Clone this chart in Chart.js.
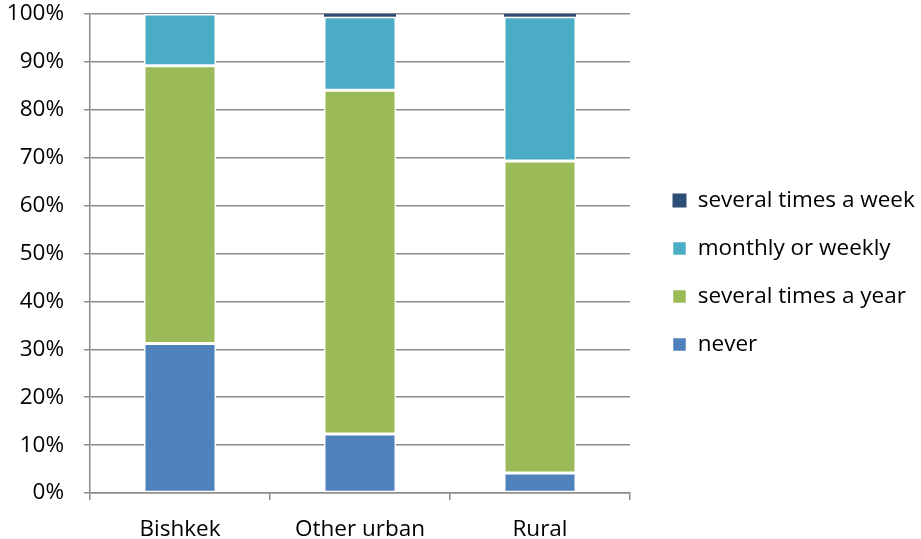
<!DOCTYPE html>
<html>
<head>
<meta charset="utf-8">
<script src="https://cdn.jsdelivr.net/npm/chart.js@4"></script>
<style>
  html, body { margin: 0; padding: 0; background: #fff; }
  #wrap { width: 921px; height: 539px; }
</style>
</head>
<body>
<div id="wrap"><canvas id="chart" width="921" height="539"></canvas></div>
<script>
// categories and shares (percent of respondents)
const regions = ['Bishkek', 'Other urban', 'Rural'];
const never = [31.2, 12.3, 4.2];
const severalYear = [58.0, 71.8, 65.1];
const monthlyWeekly = [10.8, 15.3, 30.1];
const severalWeek = [0.0, 0.6, 0.6];
const yTicks = [0, 10, 20, 30, 40, 50, 60, 70, 80, 90, 100];

const FONT = "'Open Sans', 'Noto Sans', sans-serif";
const axisGrey = '#8c8c8c';
const LEGEND_WIDTH = 291;
const LEGEND_SHIFT_X = 17;
const LEGEND_SHIFT_Y = -4;

function series(label, data, color, border) {
    return {
        label: label,
        data: data,
        backgroundColor: color,
        borderColor: '#ffffff',
        borderWidth: border,
        borderSkipped: false,
        categoryPercentage: 1.0,
        barPercentage: 0.4
    };
}

// fixed-width legend column on the right, items nudged away from the plot
const legendWidth = {
    id: 'legendWidth',
    beforeInit(chart) {
        const lg = chart.legend;
        const fit = lg.fit;
        lg.fit = function () {
            fit.call(this);
            this.width = LEGEND_WIDTH;
        };
    },
    afterLayout(chart) {
        const lg = chart.legend;
        lg.left += LEGEND_SHIFT_X;
        lg.top += LEGEND_SHIFT_Y;
        lg.bottom += LEGEND_SHIFT_Y;
    }
};

new Chart(document.getElementById('chart'), {
    type: 'bar',
    data: {
        labels: regions,
        datasets: [
            series('never', never, '#4F81BD', 1.5),
            series('several times a year', severalYear, '#9BBB59', 1.5),
            series('monthly or weekly', monthlyWeekly, '#4BACC6', 1.5),
            // thin top slice: no white edge or it disappears
            series('several times a week', severalWeek, '#2C4D75', 0)
        ]
    },
    plugins: [legendWidth],
    options: {
        responsive: false,
        animation: false,
        layout: { padding: { top: 14, left: 0, right: 0, bottom: 0 } },
        scales: {
            x: {
                stacked: true,
                afterFit: s => { s.paddingLeft = 0; s.paddingRight = 0; s.height = 46; },
                grid: { drawOnChartArea: false, color: axisGrey, lineWidth: 1.5, tickLength: 7 },
                border: { color: axisGrey, width: 1.5 },
                ticks: { color: '#000', font: { family: FONT, size: 22.5 }, padding: 16 }
            },
            y: {
                stacked: true,
                min: 0,
                max: 100,
                afterBuildTicks: s => { s.ticks = yTicks.map(v => ({ value: v })); },
                afterFit: s => { s.width = 90; s.paddingTop = 0; s.paddingBottom = 0; },
                grid: { color: axisGrey, lineWidth: 1.5, tickLength: 6 },
                border: { color: axisGrey, width: 1.5 },
                ticks: { color: '#000', font: { family: FONT, size: 22.5 }, padding: 20, callback: v => v + '%' }
            }
        },
        plugins: {
            tooltip: { enabled: false },
            legend: {
                position: 'right',
                reverse: true,
                labels: {
                    color: '#000',
                    font: { family: FONT, size: 22.5 },
                    boxWidth: 14,
                    boxHeight: 14,
                    padding: 25.5
                }
            }
        }
    }
});
</script>
</body>
</html>
